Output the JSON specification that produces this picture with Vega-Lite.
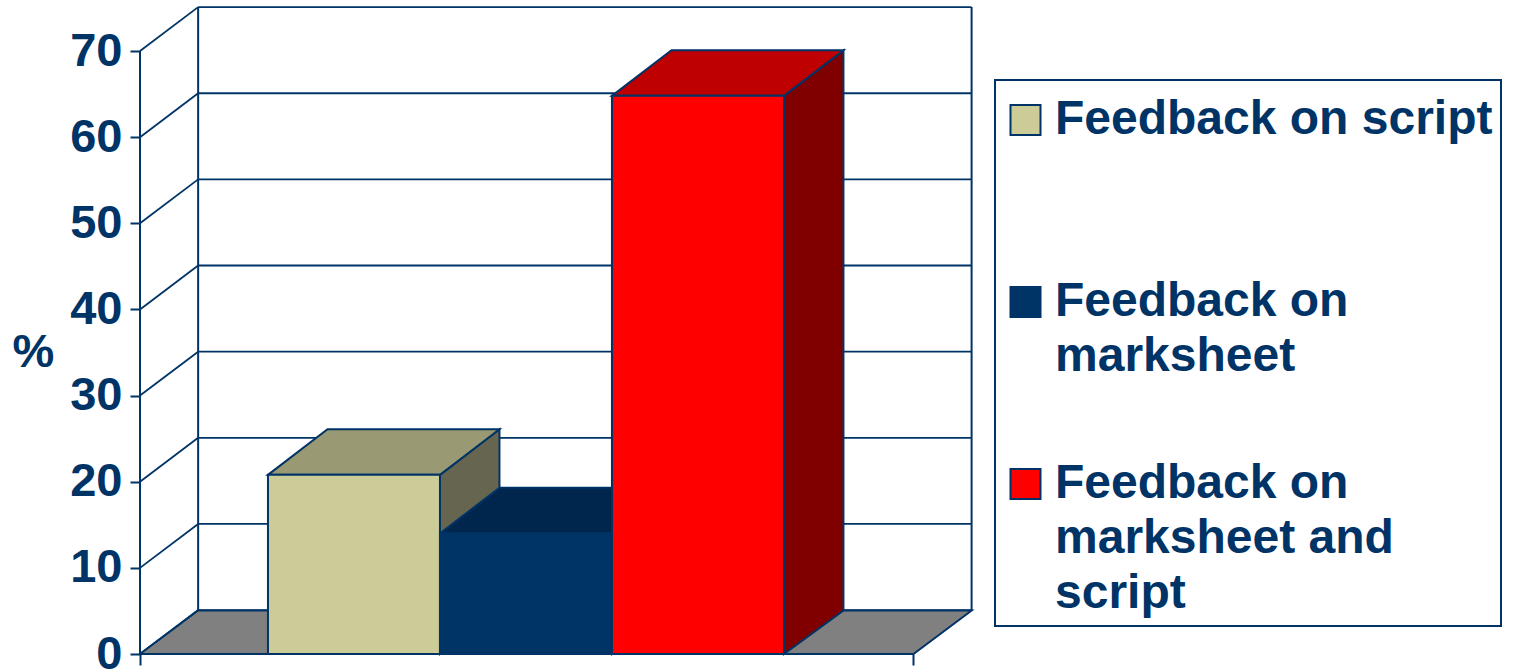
{
  "$schema": "https://vega.github.io/schema/vega-lite/v6.json",
  "width": 1372,
  "height": 653,
  "autosize": "none",
  "padding": {"left": 140, "top": 1, "right": 1, "bottom": 16},
  "background": "white",
  "datasets": {
    "bars": [
      {"series": "Feedback on script", "start": 0.744, "end": 1.744, "value": 20.8},
      {"series": "Feedback on marksheet", "start": 1.744, "end": 2.744, "value": 14},
      {"series": "Feedback on marksheet and script", "start": 2.744, "end": 3.744, "value": 64.8}
    ],
    "ticks": [{"v": 0}, {"v": 10}, {"v": 20}, {"v": 30}, {"v": 40}, {"v": 50}, {"v": 60}, {"v": 70}]
  },
  "data": {"name": "ticks"},
  "encoding": {
    "x": {
      "field": "x",
      "type": "quantitative",
      "scale": {"domain": [0, 7.977], "nice": false, "zero": false},
      "axis": {"values": [0, 4.497], "labels": false, "domain": false, "grid": false, "title": null, "tickSize": 11, "tickColor": "#003366", "tickWidth": 2}
    },
    "y": {
      "field": "y",
      "type": "quantitative",
      "scale": {"domain": [0, 75.81], "nice": false, "zero": false},
      "axis": {
        "values": [0, 10, 20, 30, 40, 50, 60, 70],
        "domain": false,
        "grid": false,
        "title": "%",
        "titleAngle": 0,
        "titleX": -107,
        "titleY": 351,
        "titleAlign": "center",
        "titleBaseline": "middle",
        "titleFontSize": 47,
        "titleFontWeight": "bold",
        "titleColor": "#003366",
        "labelFontSize": 47,
        "labelFontWeight": "bold",
        "labelColor": "#003366",
        "labelPadding": 8,
        "tickSize": 10,
        "tickColor": "#003366",
        "tickWidth": 2
      }
    }
  },
  "layer": [
    {
      "description": "Gridlines on the back wall",
      "transform": [
        {"calculate": "datum.v + 5.1", "as": "y"},
        {"calculate": "0.338", "as": "x"},
        {"calculate": "4.835", "as": "x2"}
      ],
      "mark": {"type": "rule", "stroke": "#003366", "strokeWidth": 1.8},
      "encoding": {"x2": {"field": "x2"}}
    },
    {
      "description": "Gridlines running along the left side wall",
      "transform": [
        {"calculate": "datum.v", "as": "y"},
        {"calculate": "datum.v + 5.1", "as": "y2"},
        {"calculate": "0", "as": "x"},
        {"calculate": "0.338", "as": "x2"}
      ],
      "mark": {"type": "rule", "stroke": "#003366", "strokeWidth": 1.8},
      "encoding": {"x2": {"field": "x2"}, "y2": {"field": "y2"}}
    },
    {
      "description": "Grey floor of the box",
      "data": {"values": [{"depth": 0}, {"depth": 1}]},
      "transform": [
        {"calculate": "datum.depth * 5.05", "as": "y"},
        {"calculate": "datum.depth * 0.338", "as": "x"},
        {"calculate": "4.497 + datum.depth * 0.338", "as": "x2"}
      ],
      "mark": {"type": "area", "orient": "horizontal", "fill": "#808080", "stroke": "#003366", "strokeWidth": 2},
      "encoding": {"x2": {"field": "x2"}}
    },
    {
      "description": "Vertical edges of the box",
      "data": {"values": [{"at": 0, "depth": 0}, {"at": 0, "depth": 1}, {"at": 4.497, "depth": 1}]},
      "transform": [
        {"calculate": "datum.at + datum.depth * 0.338", "as": "x"},
        {"calculate": "datum.depth * 5.05", "as": "y"},
        {"calculate": "70 + datum.depth * 5.1", "as": "y2"}
      ],
      "mark": {"type": "rule", "stroke": "#003366", "strokeWidth": 2},
      "encoding": {"y2": {"field": "y2"}}
    },
    {
      "description": "Shaded right-hand faces of the columns",
      "data": {"name": "bars"},
      "transform": [
        {"calculate": "[0, 1]", "as": "depth"},
        {"flatten": ["depth"]},
        {"calculate": "datum.end + datum.depth * 0.346", "as": "x"},
        {"calculate": "datum.value + datum.depth * 5.3", "as": "y"},
        {"calculate": "datum.depth * 5.05", "as": "y2"}
      ],
      "mark": {"type": "area", "stroke": "#003366", "strokeWidth": 2},
      "encoding": {
        "y2": {"field": "y2"},
        "color": {
          "field": "series",
          "type": "nominal",
          "legend": null,
          "scale": {
            "domain": ["Feedback on script", "Feedback on marksheet", "Feedback on marksheet and script"],
            "range": ["#666650", "#001A33", "#800000"]
          }
        }
      }
    },
    {
      "description": "Lit top faces of the columns",
      "data": {"name": "bars"},
      "transform": [
        {"calculate": "[0, 1]", "as": "depth"},
        {"flatten": ["depth"]},
        {"calculate": "datum.start + datum.depth * 0.346", "as": "x"},
        {"calculate": "datum.end + datum.depth * 0.346", "as": "x2"},
        {"calculate": "datum.value + datum.depth * 5.3", "as": "y"}
      ],
      "mark": {"type": "area", "orient": "horizontal", "stroke": "#003366", "strokeWidth": 2},
      "encoding": {
        "x2": {"field": "x2"},
        "color": {
          "field": "series",
          "type": "nominal",
          "legend": null,
          "scale": {
            "domain": ["Feedback on script", "Feedback on marksheet", "Feedback on marksheet and script"],
            "range": ["#999973", "#00264D", "#BF0000"]
          }
        }
      }
    },
    {
      "description": "Front faces of the columns, which also carry the legend",
      "data": {"name": "bars"},
      "transform": [
        {"calculate": "datum.start", "as": "x"},
        {"calculate": "datum.end", "as": "x2"},
        {"calculate": "datum.value", "as": "y"},
        {"calculate": "0", "as": "y2"}
      ],
      "mark": {"type": "rect", "stroke": "#003366", "strokeWidth": 2},
      "encoding": {
        "x2": {"field": "x2"},
        "y2": {"field": "y2"},
        "color": {
          "field": "series",
          "type": "nominal",
          "scale": {
            "domain": ["Feedback on script", "Feedback on marksheet", "Feedback on marksheet and script"],
            "range": ["#CCCC99", "#003366", "#FF0000"]
          },
          "legend": {
            "title": " ",
            "titleFontSize": 1,
            "titlePadding": 7,
            "orient": "none",
            "legendX": 855,
            "legendY": 79,
            "padding": 8,
            "strokeColor": "#003366",
            "fillColor": "white",
            "symbolType": "square",
            "symbolSize": 900,
            "symbolOffset": -1.5,
            "symbolStrokeColor": "#003366",
            "symbolStrokeWidth": 2,
            "symbolOpacity": 1,
            "labelFontSize": 48,
            "labelFontWeight": "bold",
            "labelColor": "#003366",
            "labelLimit": 600,
            "labelOffset": 5.5,
            "gridAlign": "all",
            "rowPadding": 24,
            "labelExpr": "datum.label == 'Feedback on marksheet' ? ['Feedback on', 'marksheet'] : datum.label == 'Feedback on marksheet and script' ? ['Feedback on', 'marksheet and', 'script'] : datum.label"
          }
        }
      }
    }
  ],
  "resolve": {"scale": {"color": "independent"}},
  "config": {
    "font": "Liberation Sans",
    "view": {"stroke": null},
    "legend": {"strokeWidth": 2},
    "style": {"guide-label": {"lineHeight": 55}}
  }
}
